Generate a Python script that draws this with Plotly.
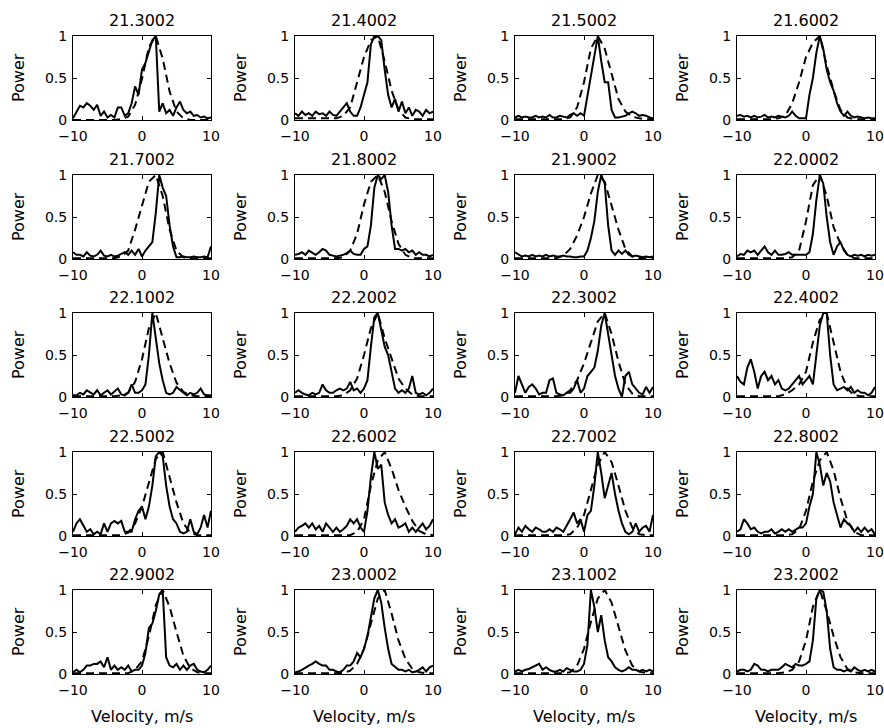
import plotly.graph_objects as go

# ---------------- data ----------------
velocity_fine = [-10, -9.5, -9, -8.5, -8, -7.5, -7, -6.5, -6, -5.5, -5, -4.5, -4, -3.5, -3, -2.5, -2, -1.5, -1, -0.5,
                 0, 0.5, 1, 1.5, 2, 2.5, 3, 3.5, 4, 4.5, 5, 5.5, 6, 6.5, 7, 7.5, 8, 8.5, 9, 9.5, 10]
velocity_coarse = [-10, -9, -8, -7, -6, -5, -4, -3, -2, -1, 0, 1, 2, 3, 4, 5, 6, 7, 8, 9, 10]

titles = ["21.3002", "21.4002", "21.5002", "21.6002",
          "21.7002", "21.8002", "21.9002", "22.0002",
          "22.1002", "22.2002", "22.3002", "22.4002",
          "22.5002", "22.6002", "22.7002", "22.8002",
          "22.9002", "23.0002", "23.1002", "23.2002"]

# measured spectra (solid)
solid_21_3002 = [0.02, 0.10, 0.17, 0.15, 0.20, 0.17, 0.12, 0.18, 0.05, 0.10, 0.03, 0.06, 0.03, 0.15, 0.15, 0.05, 0.08, 0.20, 0.40, 0.30,
                 0.60, 0.68, 0.82, 0.95, 1.00, 0.10, 0.20, 0.08, 0.12, 0.05, 0.15, 0.22, 0.12, 0.08, 0.10, 0.05, 0.06, 0.03, 0.04, 0.02, 0.03]
solid_21_4002 = [0.08, 0.05, 0.10, 0.06, 0.08, 0.05, 0.10, 0.07, 0.08, 0.05, 0.10, 0.06, 0.05, 0.10, 0.15, 0.20, 0.10, 0.05, 0.05, 0.15,
                 0.30, 0.45, 0.90, 1.00, 1.00, 0.95, 0.60, 0.30, 0.15, 0.25, 0.10, 0.22, 0.08, 0.15, 0.05, 0.12, 0.10, 0.05, 0.12, 0.08, 0.10]
solid_21_5002 = [0.03, 0.05, 0.03, 0.04, 0.03, 0.03, 0.05, 0.03, 0.04, 0.03, 0.06, 0.03, 0.03, 0.05, 0.04, 0.03, 0.06, 0.08, 0.05, 0.08,
                 0.05, 0.30, 0.55, 0.80, 1.00, 0.70, 0.45, 0.45, 0.12, 0.03, 0.03, 0.04, 0.05, 0.08, 0.10, 0.08, 0.05, 0.06, 0.05, 0.03, 0.02]
solid_21_6002 = [0.05, 0.06, 0.04, 0.05, 0.03, 0.05, 0.03, 0.04, 0.06, 0.03, 0.04, 0.03, 0.05, 0.04, 0.03, 0.05, 0.10, 0.05, 0.02, 0.02,
                 0.02, 0.30, 0.50, 0.80, 1.00, 0.85, 0.60, 0.45, 0.35, 0.20, 0.10, 0.05, 0.10, 0.05, 0.03, 0.04, 0.03, 0.02, 0.03, 0.02, 0.02]
solid_21_7002 = [0.08, 0.05, 0.05, 0.03, 0.08, 0.04, 0.03, 0.05, 0.10, 0.04, 0.03, 0.05, 0.03, 0.04, 0.06, 0.08, 0.05, 0.10, 0.05, 0.12,
                 0.03, 0.10, 0.15, 0.20, 0.55, 1.00, 0.85, 0.75, 0.40, 0.15, 0.02, 0.02, 0.03, 0.02, 0.02, 0.03, 0.02, 0.02, 0.03, 0.02, 0.15]
solid_21_8002 = [0.05, 0.06, 0.08, 0.05, 0.10, 0.07, 0.05, 0.08, 0.12, 0.10, 0.05, 0.04, 0.03, 0.04, 0.05, 0.07, 0.10, 0.06, 0.05, 0.05,
                 0.12, 0.15, 0.40, 0.85, 1.00, 0.95, 1.00, 0.80, 0.40, 0.12, 0.12, 0.10, 0.12, 0.08, 0.10, 0.05, 0.08, 0.05, 0.05, 0.03, 0.05]
solid_21_9002 = [0.08, 0.05, 0.03, 0.04, 0.03, 0.05, 0.03, 0.04, 0.03, 0.05, 0.03, 0.04, 0.03, 0.03, 0.04, 0.03, 0.03, 0.02, 0.02, 0.03,
                 0.03, 0.10, 0.25, 0.45, 0.80, 1.00, 0.90, 0.40, 0.10, 0.05, 0.10, 0.06, 0.10, 0.05, 0.03, 0.04, 0.03, 0.02, 0.03, 0.02, 0.03]
solid_22_0002 = [0.03, 0.06, 0.05, 0.10, 0.08, 0.10, 0.05, 0.10, 0.15, 0.08, 0.05, 0.10, 0.05, 0.05, 0.06, 0.08, 0.05, 0.05, 0.05, 0.05,
                 0.05, 0.08, 0.30, 0.70, 1.00, 0.90, 0.50, 0.20, 0.05, 0.15, 0.20, 0.10, 0.05, 0.03, 0.05, 0.04, 0.05, 0.03, 0.05, 0.04, 0.05]
solid_22_1002 = [0.02, 0.02, 0.05, 0.03, 0.08, 0.05, 0.03, 0.08, 0.02, 0.05, 0.08, 0.03, 0.07, 0.10, 0.03, 0.02, 0.05, 0.15, 0.05, 0.05,
                 0.08, 0.15, 0.50, 1.00, 0.70, 0.40, 0.20, 0.05, 0.03, 0.05, 0.12, 0.08, 0.05, 0.02, 0.05, 0.03, 0.05, 0.10, 0.03, 0.02, 0.02]
solid_22_2002 = [0.05, 0.08, 0.05, 0.03, 0.02, 0.05, 0.03, 0.05, 0.15, 0.08, 0.05, 0.05, 0.08, 0.10, 0.08, 0.10, 0.18, 0.08, 0.10, 0.05,
                 0.10, 0.20, 0.60, 0.95, 1.00, 0.80, 0.60, 0.50, 0.30, 0.10, 0.05, 0.08, 0.05, 0.10, 0.25, 0.05, 0.03, 0.05, 0.02, 0.05, 0.10]
solid_22_3002 = [0.05, 0.25, 0.15, 0.05, 0.12, 0.15, 0.10, 0.03, 0.05, 0.05, 0.20, 0.22, 0.05, 0.03, 0.02, 0.05, 0.05, 0.10, 0.20, 0.05,
                 0.10, 0.25, 0.30, 0.35, 0.55, 0.85, 1.00, 0.75, 0.45, 0.25, 0.10, 0.00, 0.25, 0.30, 0.15, 0.10, 0.05, 0.03, 0.12, 0.05, 0.12]
solid_22_4002 = [0.25, 0.18, 0.15, 0.35, 0.45, 0.30, 0.10, 0.25, 0.30, 0.20, 0.25, 0.15, 0.20, 0.10, 0.08, 0.10, 0.15, 0.20, 0.25, 0.15,
                 0.20, 0.25, 0.15, 0.50, 0.85, 1.00, 1.00, 0.50, 0.15, 0.08, 0.10, 0.12, 0.08, 0.12, 0.05, 0.08, 0.05, 0.05, 0.02, 0.05, 0.12]
solid_22_5002 = [0.05, 0.15, 0.20, 0.12, 0.05, 0.08, 0.02, 0.05, 0.02, 0.15, 0.05, 0.15, 0.18, 0.15, 0.18, 0.05, 0.05, 0.05, 0.20, 0.30,
                 0.35, 0.20, 0.35, 0.60, 0.95, 1.00, 0.95, 0.60, 0.35, 0.20, 0.15, 0.05, 0.03, 0.05, 0.20, 0.05, 0.02, 0.10, 0.25, 0.10, 0.30]
solid_22_6002 = [0.05, 0.10, 0.12, 0.15, 0.10, 0.15, 0.08, 0.12, 0.05, 0.15, 0.10, 0.05, 0.10, 0.05, 0.08, 0.12, 0.20, 0.15, 0.20, 0.10,
                 0.05, 0.30, 0.70, 1.00, 0.80, 0.85, 0.40, 0.25, 0.15, 0.20, 0.10, 0.12, 0.15, 0.05, 0.10, 0.05, 0.10, 0.15, 0.08, 0.12, 0.20]
solid_22_7002 = [0.02, 0.10, 0.05, 0.12, 0.08, 0.05, 0.10, 0.08, 0.05, 0.05, 0.08, 0.05, 0.10, 0.08, 0.05, 0.12, 0.20, 0.28, 0.15, 0.20,
                 0.05, 0.25, 0.30, 0.60, 1.00, 0.75, 0.45, 0.60, 0.75, 0.50, 0.30, 0.15, 0.05, 0.02, 0.05, 0.15, 0.05, 0.10, 0.12, 0.05, 0.25]
solid_22_8002 = [0.05, 0.08, 0.20, 0.15, 0.08, 0.10, 0.05, 0.03, 0.05, 0.05, 0.08, 0.03, 0.05, 0.08, 0.05, 0.08, 0.05, 0.08, 0.10, 0.10,
                 0.15, 0.35, 0.50, 1.00, 0.85, 0.60, 0.75, 0.65, 0.40, 0.25, 0.10, 0.20, 0.15, 0.12, 0.05, 0.10, 0.05, 0.10, 0.05, 0.08, 0.02]
solid_22_9002 = [0.02, 0.05, 0.02, 0.05, 0.10, 0.10, 0.12, 0.12, 0.15, 0.08, 0.20, 0.05, 0.10, 0.05, 0.08, 0.05, 0.10, 0.03, 0.05, 0.05,
                 0.10, 0.25, 0.55, 0.60, 0.75, 0.95, 1.00, 0.20, 0.10, 0.08, 0.12, 0.05, 0.10, 0.05, 0.10, 0.12, 0.05, 0.03, 0.02, 0.05, 0.10]
solid_23_0002 = [0.02, 0.03, 0.05, 0.08, 0.10, 0.12, 0.15, 0.12, 0.10, 0.10, 0.05, 0.05, 0.03, 0.02, 0.05, 0.10, 0.10, 0.15, 0.25, 0.20,
                 0.30, 0.45, 0.70, 0.90, 1.00, 0.85, 0.55, 0.30, 0.12, 0.08, 0.05, 0.05, 0.03, 0.05, 0.02, 0.03, 0.05, 0.08, 0.03, 0.08, 0.10]
solid_23_1002 = [0.03, 0.05, 0.03, 0.05, 0.06, 0.08, 0.10, 0.12, 0.05, 0.08, 0.05, 0.03, 0.03, 0.05, 0.03, 0.07, 0.05, 0.03, 0.03, 0.05,
                 0.12, 0.35, 1.00, 0.80, 0.50, 0.70, 0.40, 0.20, 0.15, 0.08, 0.05, 0.03, 0.05, 0.08, 0.05, 0.05, 0.03, 0.05, 0.03, 0.05, 0.03]
solid_23_2002 = [0.03, 0.05, 0.05, 0.03, 0.05, 0.12, 0.10, 0.05, 0.05, 0.03, 0.05, 0.05, 0.05, 0.08, 0.12, 0.10, 0.08, 0.12, 0.10, 0.10,
                 0.12, 0.15, 0.40, 0.90, 1.00, 0.98, 0.75, 0.30, 0.08, 0.05, 0.05, 0.03, 0.05, 0.03, 0.08, 0.05, 0.03, 0.05, 0.03, 0.05, 0.03]

# model spectra (dashed)
dashed_21_3002 = [0, 0, 0, 0, 0, 0, 0, 0.01, 0.04, 0.18, 0.49, 0.87, 1.00, 0.73, 0.34, 0.10, 0.02, 0, 0, 0, 0]
dashed_21_4002 = [0.02, 0.02, 0.02, 0.02, 0.02, 0.02, 0.02, 0.05, 0.15, 0.45, 0.75, 0.95, 1.00, 0.70, 0.35, 0.12, 0.03, 0.01, 0.01, 0.01, 0.01]
dashed_21_5002 = [0.01, 0.01, 0.01, 0.01, 0.01, 0.01, 0.01, 0.01, 0.03, 0.15, 0.45, 0.85, 1.00, 0.85, 0.55, 0.25, 0.10, 0.04, 0.02, 0.01, 0.01]
dashed_21_6002 = [0.01, 0.01, 0.01, 0.01, 0.01, 0.01, 0.02, 0.05, 0.20, 0.45, 0.75, 0.92, 1.00, 0.65, 0.35, 0.12, 0.03, 0.01, 0.01, 0.01, 0.01]
dashed_21_7002 = [0.01, 0.01, 0.01, 0.01, 0.01, 0.01, 0.01, 0.03, 0.10, 0.35, 0.65, 0.92, 1.00, 0.75, 0.35, 0.10, 0.02, 0.01, 0.01, 0.01, 0.01]
dashed_21_8002 = [0.01, 0.01, 0.01, 0.01, 0.01, 0.01, 0.01, 0.02, 0.10, 0.30, 0.65, 0.92, 1.00, 0.80, 0.45, 0.18, 0.05, 0.01, 0.01, 0.01, 0.01]
dashed_21_9002 = [0.01, 0.01, 0.01, 0.01, 0.01, 0.01, 0.01, 0.04, 0.12, 0.28, 0.50, 0.78, 1.00, 0.92, 0.65, 0.35, 0.12, 0.03, 0.01, 0.01, 0.01]
dashed_22_0002 = [0.01, 0.01, 0.01, 0.01, 0.01, 0.01, 0.01, 0.01, 0.02, 0.10, 0.45, 0.88, 1.00, 0.75, 0.38, 0.18, 0.05, 0.01, 0.01, 0.01, 0.01]
dashed_22_1002 = [0.01, 0.01, 0.01, 0.01, 0.01, 0.01, 0.01, 0.02, 0.05, 0.18, 0.45, 0.82, 1.00, 0.70, 0.40, 0.17, 0.06, 0.02, 0.01, 0.01, 0.01]
dashed_22_2002 = [0.01, 0.01, 0.01, 0.01, 0.01, 0.01, 0.01, 0.02, 0.08, 0.22, 0.50, 0.82, 1.00, 0.70, 0.45, 0.22, 0.10, 0.03, 0.01, 0.01, 0.01]
dashed_22_3002 = [0.01, 0.01, 0.01, 0.01, 0.01, 0.01, 0.01, 0.02, 0.08, 0.20, 0.40, 0.65, 0.90, 1.00, 0.75, 0.42, 0.15, 0.04, 0.01, 0.01, 0.01]
dashed_22_4002 = [0.01, 0.01, 0.01, 0.01, 0.01, 0.01, 0.01, 0.03, 0.08, 0.15, 0.30, 0.65, 0.92, 1.00, 0.65, 0.30, 0.10, 0.02, 0.01, 0.01, 0.01]
dashed_22_5002 = [0.01, 0.01, 0.01, 0.01, 0.01, 0.01, 0.01, 0.01, 0.04, 0.15, 0.35, 0.65, 0.92, 1.00, 0.70, 0.40, 0.15, 0.04, 0.01, 0.01, 0.01]
dashed_22_6002 = [0.01, 0.01, 0.01, 0.01, 0.01, 0.01, 0.01, 0.01, 0.01, 0.05, 0.20, 0.60, 0.90, 1.00, 0.80, 0.55, 0.35, 0.18, 0.06, 0.02, 0.01]
dashed_22_7002 = [0.01, 0.01, 0.01, 0.01, 0.01, 0.01, 0.01, 0.01, 0.02, 0.10, 0.25, 0.55, 0.85, 1.00, 0.88, 0.60, 0.30, 0.10, 0.02, 0.01, 0.01]
dashed_22_8002 = [0.01, 0.01, 0.01, 0.01, 0.01, 0.01, 0.01, 0.01, 0.02, 0.08, 0.30, 0.65, 0.90, 1.00, 0.78, 0.45, 0.18, 0.05, 0.01, 0.01, 0.01]
dashed_22_9002 = [0.01, 0.01, 0.01, 0.01, 0.01, 0.01, 0.01, 0.01, 0.01, 0.05, 0.15, 0.45, 0.82, 1.00, 0.80, 0.50, 0.22, 0.07, 0.02, 0.01, 0.01]
dashed_23_0002 = [0.01, 0.01, 0.01, 0.01, 0.01, 0.01, 0.01, 0.01, 0.04, 0.12, 0.30, 0.60, 0.90, 1.00, 0.72, 0.40, 0.18, 0.06, 0.02, 0.01, 0.01]
dashed_23_1002 = [0.01, 0.01, 0.01, 0.01, 0.01, 0.01, 0.01, 0.01, 0.02, 0.10, 0.30, 0.62, 0.90, 1.00, 0.85, 0.55, 0.28, 0.10, 0.03, 0.01, 0.01]
dashed_23_2002 = [0.01, 0.01, 0.01, 0.01, 0.01, 0.01, 0.01, 0.02, 0.05, 0.15, 0.40, 0.80, 1.00, 0.75, 0.45, 0.20, 0.06, 0.02, 0.01, 0.01, 0.01]

x_tick_vals = [-10, 0, 10]
x_tick_text = ["\u221210", "0", "10"]
y_tick_vals = [0, 0.5, 1]
y_tick_text = ["0", "0.5", "1"]
y_label = "Power"
x_label = "Velocity, m/s"

solid_series = [solid_21_3002, solid_21_4002, solid_21_5002, solid_21_6002,
                solid_21_7002, solid_21_8002, solid_21_9002, solid_22_0002,
                solid_22_1002, solid_22_2002, solid_22_3002, solid_22_4002,
                solid_22_5002, solid_22_6002, solid_22_7002, solid_22_8002,
                solid_22_9002, solid_23_0002, solid_23_1002, solid_23_2002]
dashed_series = [dashed_21_3002, dashed_21_4002, dashed_21_5002, dashed_21_6002,
                 dashed_21_7002, dashed_21_8002, dashed_21_9002, dashed_22_0002,
                 dashed_22_1002, dashed_22_2002, dashed_22_3002, dashed_22_4002,
                 dashed_22_5002, dashed_22_6002, dashed_22_7002, dashed_22_8002,
                 dashed_22_9002, dashed_23_0002, dashed_23_1002, dashed_23_2002]
for s in solid_series:
    assert len(s) == len(velocity_fine)
for d in dashed_series:
    assert len(d) == len(velocity_coarse)

# ---------------- layout geometry (pixels) ----------------
W, H = 884, 728
col_left = [73, 295, 515, 737]
row_top = [36, 175, 313, 452, 590]
panel_w = 138
panel_h = 84

FONT = "DejaVu Sans, Liberation Sans, Arial, sans-serif"
FS = 14
LABEL_FS = 16
tick_font = dict(family=FONT, size=FS, color="black")

fig = go.Figure()
layout = dict(
    width=W, height=H,
    margin=dict(l=0, r=0, t=0, b=0, pad=0),
    paper_bgcolor="white", plot_bgcolor="white",
    showlegend=False,
    annotations=[],
)

for i in range(20):
    r, c = divmod(i, 4)
    n = "" if i == 0 else str(i + 1)
    x0 = col_left[c] / W
    x1 = (col_left[c] + panel_w) / W
    y1 = 1 - row_top[r] / H
    y0 = 1 - (row_top[r] + panel_h) / H

    fig.add_trace(go.Scatter(x=velocity_coarse, y=dashed_series[i], mode="lines",
                             line=dict(color="black", width=2, dash="8px,5px"),
                             xaxis="x" + n, yaxis="y" + n, hoverinfo="skip"))
    fig.add_trace(go.Scatter(x=velocity_fine, y=solid_series[i], mode="lines",
                             line=dict(color="black", width=2),
                             xaxis="x" + n, yaxis="y" + n, hoverinfo="skip"))

    common = dict(showline=True, mirror="ticks", linecolor="black", linewidth=1,
                  ticks="inside", ticklen=4, tickcolor="black", tickwidth=1,
                  showgrid=False, zeroline=False, tickfont=tick_font,
                  fixedrange=True, automargin=False)
    layout["xaxis" + n] = dict(domain=[x0, x1], range=[-10, 10], anchor="y" + n,
                               tickvals=x_tick_vals, ticktext=x_tick_text,
                               ticklabelstandoff=3, **common)
    layout["yaxis" + n] = dict(domain=[y0, y1], range=[0, 1], anchor="x" + n,
                               tickvals=y_tick_vals, ticktext=y_tick_text,
                               ticklabelstandoff=2, **common)

    layout["annotations"].append(dict(
        text=titles[i], xref="paper", yref="paper",
        x=(x0 + x1) / 2, y=y1, xanchor="center", yanchor="middle", yshift=16,
        showarrow=False, font=dict(family=FONT, size=LABEL_FS, color="black")))
    layout["annotations"].append(dict(
        text=y_label, xref="paper", yref="paper", textangle=-90,
        x=x0, y=(y0 + y1) / 2, xanchor="center", yanchor="middle", xshift=-55,
        showarrow=False, font=dict(family=FONT, size=LABEL_FS, color="black")))
    if r == 4:
        layout["annotations"].append(dict(
            text=x_label, xref="paper", yref="paper",
            x=(x0 + x1) / 2, y=y0, xanchor="center", yanchor="middle", yshift=-42,
            showarrow=False, font=dict(family=FONT, size=LABEL_FS, color="black")))

fig.update_layout(**layout)
fig.write_html("out.html", config={"displayModeBar": False},
               post_script="document.body.style.margin='0';document.body.style.overflow='hidden';")
